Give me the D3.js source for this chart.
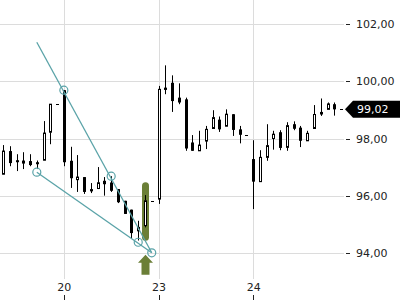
<!DOCTYPE html>
<html>
<head>
<meta charset="utf-8">
<script src="https://d3js.org/d3.v7.min.js"></script>
<style>
  body { margin: 0; background: #fff; }
  svg { display: block; font-family: "DejaVu Sans", sans-serif; }
</style>
</head>
<body>
<svg id="chart" width="400" height="300"></svg>
<script>
// Candle data, one entry per hourly bar (index = position on the x axis)
const opens  = [96.75, 97.56, 97.24, 97.14, 97.21, 97.17, 97.24, 98.22, 99.20, 99.69,
                97.22, 96.56, 96.65, 96.23, 96.25, 96.52, 96.46, 96.23, 95.82, 95.51,
                94.77, 94.95, 95.80, 95.88, 99.78, 99.95, 99.43, 99.37, 97.86, 97.57,
                97.91, 98.35, 98.66, 98.43, 98.85, 98.32, 98.13, 97.28, 96.49, 97.34,
                98.00, 98.22, 97.69, 98.50, 98.38, 97.92, 98.35, 98.93, 99.02, 99.20];
const highs  = [97.77, 97.73, 97.45, 97.52, 97.45, 97.23, 98.61, 99.20, 99.20, 99.69,
                97.71, 97.42, 96.65, 96.44, 97.00, 96.65, 96.68, 96.23, 95.82, 95.51,
                95.12, 96.02, 95.80, 99.84, 100.56, 100.21, 99.93, 99.43, 98.12, 98.27,
                98.44, 98.99, 98.77, 99.02, 98.85, 98.44, 98.13, 97.94, 97.59, 98.50,
                98.27, 98.29, 98.57, 98.60, 98.44, 98.27, 99.17, 99.40, 99.26, 99.26];
const lows   = [96.75, 97.03, 96.86, 96.93, 97.03, 96.93, 97.24, 97.80, 99.20, 97.03,
                96.27, 96.13, 96.06, 96.09, 96.23, 96.00, 96.13, 95.74, 95.36, 94.49,
                94.43, 94.89, 95.80, 95.71, 99.55, 98.93, 99.20, 97.57, 97.57, 97.57,
                97.63, 98.35, 98.23, 98.43, 98.09, 97.83, 98.13, 95.53, 96.49, 97.22,
                97.61, 97.59, 97.57, 98.29, 97.70, 97.92, 98.35, 98.79, 99.02, 98.80];
const closes = [97.56, 97.14, 97.17, 97.21, 97.07, 97.10, 98.19, 99.20, 99.20, 97.17,
                96.61, 96.65, 96.13, 96.15, 96.45, 96.40, 96.17, 95.77, 95.36, 94.69,
                94.89, 95.82, 95.80, 99.72, 99.70, 99.31, 99.26, 97.65, 97.57, 97.77,
                98.32, 98.73, 98.32, 98.85, 98.30, 98.13, 98.13, 96.49, 97.34, 97.75,
                98.15, 97.67, 98.45, 98.34, 97.92, 98.18, 98.84, 98.84, 99.21, 99.02];

// Day labels on the x axis and the bar index they sit on
const dayLabels  = ['20', '23', '24'];
const dayIndexes = [9, 23, 37];

// Price grid
const priceTicks = [94, 96, 98, 100, 102];
const lastPrice = 99.02;

// Wedge drawing: line ends [index, price] and the marked points
const upperLine = [[5, 101.37], [22, 94.0]];
const lowerLine = [[5, 96.82], [22, 94.0]];
const markPoints = [[5, 96.82], [9, 99.69], [16, 96.68], [20, 94.37], [22, 94.0]];

// Signal highlight on one bar and the arrow under it
const signalIndex = 21;
const signalRange = [94.42, 96.47];
const arrowPrice = 93.93;

const width = 400, height = 300;
const plotRight = 344;

const svg = d3.select('#chart');

const x = d3.scaleLinear().domain([0, 49]).range([3, 334.3]);
const y = d3.scaleLinear().domain([94, 102]).range([252.8, 24.2]);

const fmt = v => d3.format('.2f')(v).replace('.', ',');

// Horizontal grid
svg.append('g')
  .selectAll('line')
  .data(priceTicks)
  .join('line')
  .attr('x1', 0)
  .attr('x2', plotRight)
  .attr('y1', d => Math.round(y(d)) + 0.5)
  .attr('y2', d => Math.round(y(d)) + 0.5)
  .attr('stroke', '#dcdcdc');

// Vertical grid at day starts
svg.append('g')
  .selectAll('line')
  .data(dayIndexes)
  .join('line')
  .attr('x1', d => Math.round(x(d)) + 0.5)
  .attr('x2', d => Math.round(x(d)) + 0.5)
  .attr('y1', 0)
  .attr('y2', 279)
  .attr('stroke', '#dcdcdc');

// Right price axis
const yAxis = svg.append('g');
yAxis.selectAll('line')
  .data(priceTicks)
  .join('line')
  .attr('x1', 346)
  .attr('x2', 350)
  .attr('y1', d => Math.round(y(d)) + 0.5)
  .attr('y2', d => Math.round(y(d)) + 0.5)
  .attr('stroke', '#222');
yAxis.selectAll('text')
  .data(priceTicks)
  .join('text')
  .attr('x', 356)
  .attr('y', d => y(d) + 4)
  .attr('font-size', 11)
  .attr('fill', '#222')
  .text(d => fmt(d));

// Bottom day axis
const xAxis = svg.append('g');
xAxis.selectAll('text')
  .data(dayLabels)
  .join('text')
  .attr('x', (d, i) => x(dayIndexes[i]) + 0.5)
  .attr('y', 291)
  .attr('text-anchor', 'middle')
  .attr('font-size', 11)
  .attr('fill', '#222')
  .text(d => d);
xAxis.selectAll('line')
  .data(dayIndexes)
  .join('line')
  .attr('x1', d => Math.round(x(d)) + 0.5)
  .attr('x2', d => Math.round(x(d)) + 0.5)
  .attr('y1', 295)
  .attr('y2', 300)
  .attr('stroke', '#222');

// Signal highlight behind the candle
const green = '#6b7f37';
svg.append('rect')
  .attr('x', Math.round(x(signalIndex)) - 3)
  .attr('y', y(signalRange[1]))
  .attr('width', 7)
  .attr('height', y(signalRange[0]) - y(signalRange[1]))
  .attr('rx', 3.5)
  .attr('fill', green);

// Candles
const candles = d3.range(opens.length).map(i => ({
  i, o: opens[i], h: highs[i], l: lows[i], c: closes[i]
}));

const g = svg.append('g')
  .selectAll('g')
  .data(candles)
  .join('g')
  .attr('transform', d => `translate(${Math.round(x(d.i))},0)`);

// wicks
g.filter(d => d.h !== d.l)
  .append('line')
  .attr('x1', 0.5)
  .attr('x2', 0.5)
  .attr('y1', d => y(d.h))
  .attr('y2', d => y(d.l))
  .attr('stroke', '#000');

// flat bars are drawn as a dash
g.filter(d => d.h === d.l)
  .append('line')
  .attr('x1', -1)
  .attr('x2', 2)
  .attr('y1', d => Math.round(y(d.c)) + 0.5)
  .attr('y2', d => Math.round(y(d.c)) + 0.5)
  .attr('stroke', '#000');

// falling bodies
g.filter(d => d.h !== d.l && d.c < d.o)
  .append('rect')
  .attr('x', -1)
  .attr('width', 3)
  .attr('y', d => y(d.o))
  .attr('height', d => Math.max(1, y(d.c) - y(d.o)))
  .attr('fill', '#000');

// rising bodies
g.filter(d => d.h !== d.l && d.c >= d.o)
  .append('rect')
  .attr('x', -0.5)
  .attr('width', 2)
  .attr('y', d => y(d.c))
  .attr('height', d => Math.max(1, y(d.o) - y(d.c)))
  .attr('fill', '#fff')
  .attr('stroke', '#000');

// Wedge lines and marked points
const teal = '#5aa3a8';
const line = d3.line().x(d => x(d[0])).y(d => y(d[1]));
svg.append('g')
  .selectAll('path')
  .data([upperLine, lowerLine])
  .join('path')
  .attr('d', line)
  .attr('fill', 'none')
  .attr('stroke', teal)
  .attr('stroke-width', 1.3);
svg.append('g')
  .selectAll('circle')
  .data(markPoints)
  .join('circle')
  .attr('cx', d => x(d[0]))
  .attr('cy', d => y(d[1]))
  .attr('r', 4)
  .attr('fill', 'none')
  .attr('stroke', teal)
  .attr('stroke-width', 1.2);

// Up arrow below the signal bar
const ax = Math.round(x(signalIndex)) + 0.5;
const ay = y(arrowPrice);
svg.append('path')
  .attr('d', `M${ax},${ay} L${ax + 7.5},${ay + 8} L${ax + 4},${ay + 8} L${ax + 4},${ay + 20}
              L${ax - 4},${ay + 20} L${ax - 4},${ay + 8} L${ax - 7.5},${ay + 8} Z`)
  .attr('fill', green);

// Last price marker
const ly = y(lastPrice);
svg.append('line')
  .attr('x1', 340)
  .attr('x2', 343)
  .attr('y1', Math.round(ly) + 0.5)
  .attr('y2', Math.round(ly) + 0.5)
  .attr('stroke', '#000');
svg.append('path')
  .attr('d', `M345,${ly} L353,${ly - 8.5} L400,${ly - 8.5} L400,${ly + 8.5} L353,${ly + 8.5} Z`)
  .attr('fill', '#000');
svg.append('text')
  .attr('x', 357)
  .attr('y', ly + 4)
  .attr('font-size', 11)
  .attr('fill', '#fff')
  .text(fmt(lastPrice));
</script>
</body>
</html>
